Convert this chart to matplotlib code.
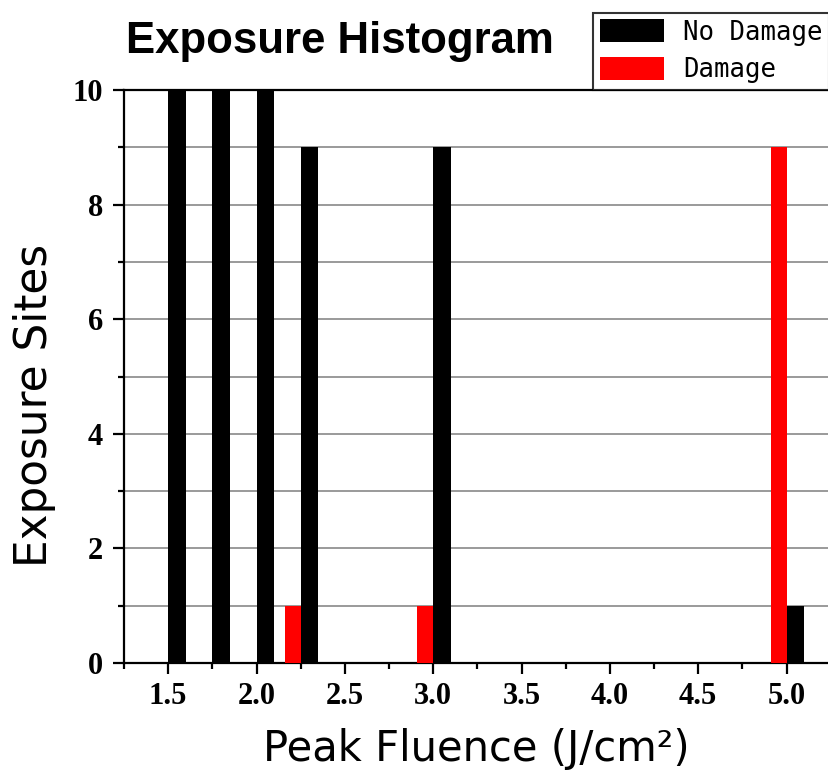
import matplotlib
matplotlib.use("Agg")
import matplotlib.pyplot as plt
from matplotlib.patches import Patch
from matplotlib.ticker import MultipleLocator

# fluence bins (J/cm^2) and counts
fluence = [1.5, 1.75, 2.0, 2.25, 3.0, 5.0]
no_damage = [10, 10, 10, 9, 9, 1]
damage = [0, 0, 0, 1, 1, 9]
labels = ["No Damage", "Damage"]

W, H = 829, 778
fig = plt.figure(figsize=(W / 100, H / 100), dpi=100)
ax = fig.add_axes([124 / W, 1 - 663 / H, (W - 124) / W, (663 - 90) / H])

# black bars sit right of the bin value, red bars left of it
ax.bar(fluence, no_damage, width=0.1, align="edge", color="black", zorder=3)
ax.bar(fluence, damage, width=-0.09, align="edge", color="red", zorder=3)

ax.set_xlim(1.25, 5.24)
ax.set_ylim(0, 10)
ax.xaxis.set_major_locator(MultipleLocator(0.5))
ax.xaxis.set_minor_locator(MultipleLocator(0.25))
ax.yaxis.set_major_locator(MultipleLocator(2))
ax.yaxis.set_minor_locator(MultipleLocator(1))
ax.xaxis.set_major_formatter(lambda v, p: f"{v:.1f}")

ax.yaxis.grid(True, which="both", color="#9a9a9a", lw=1.4, zorder=1)
ax.spines["right"].set_visible(False)
for s in ("left", "bottom", "top"):
    ax.spines[s].set_linewidth(1.6)

ax.tick_params(which="major", length=8, width=1.6, direction="out")
ax.tick_params(which="minor", length=4, width=1.6, direction="out")
ax.tick_params(axis="x", pad=6)
ax.tick_params(axis="y", pad=7)
for t in ax.get_xticklabels() + ax.get_yticklabels():
    t.set_fontfamily("Liberation Serif")
    t.set_fontweight("bold")
    t.set_fontsize(22)

ax.set_xlabel("Peak Fluence (J/cm\u00b2)", fontsize=30, labelpad=12)
fig.text(35 / W, 1 - 405 / H, "Exposure Sites", fontsize=31.5,
         rotation=90, ha="center", va="center")

fig.text(126 / W, 1 - 42 / H, "Exposure Histogram", fontsize=31.5,
         fontfamily="Liberation Sans", fontweight="bold",
         ha="left", va="center")

handles = [Patch(facecolor="black"), Patch(facecolor="red")]
leg = fig.legend(handles, labels, loc="upper right",
                 bbox_to_anchor=(829 / W, 1 - 13 / H),
                 prop={"family": "DejaVu Sans Mono", "size": 18.5},
                 handlelength=2.5, handleheight=0.98, handletextpad=0.75,
                 borderpad=0.25, labelspacing=0.45, borderaxespad=0,
                 frameon=True, fancybox=False, edgecolor="black")
leg.get_frame().set_linewidth(1.5)

fig.savefig("out.png", dpi=100, facecolor="white")
